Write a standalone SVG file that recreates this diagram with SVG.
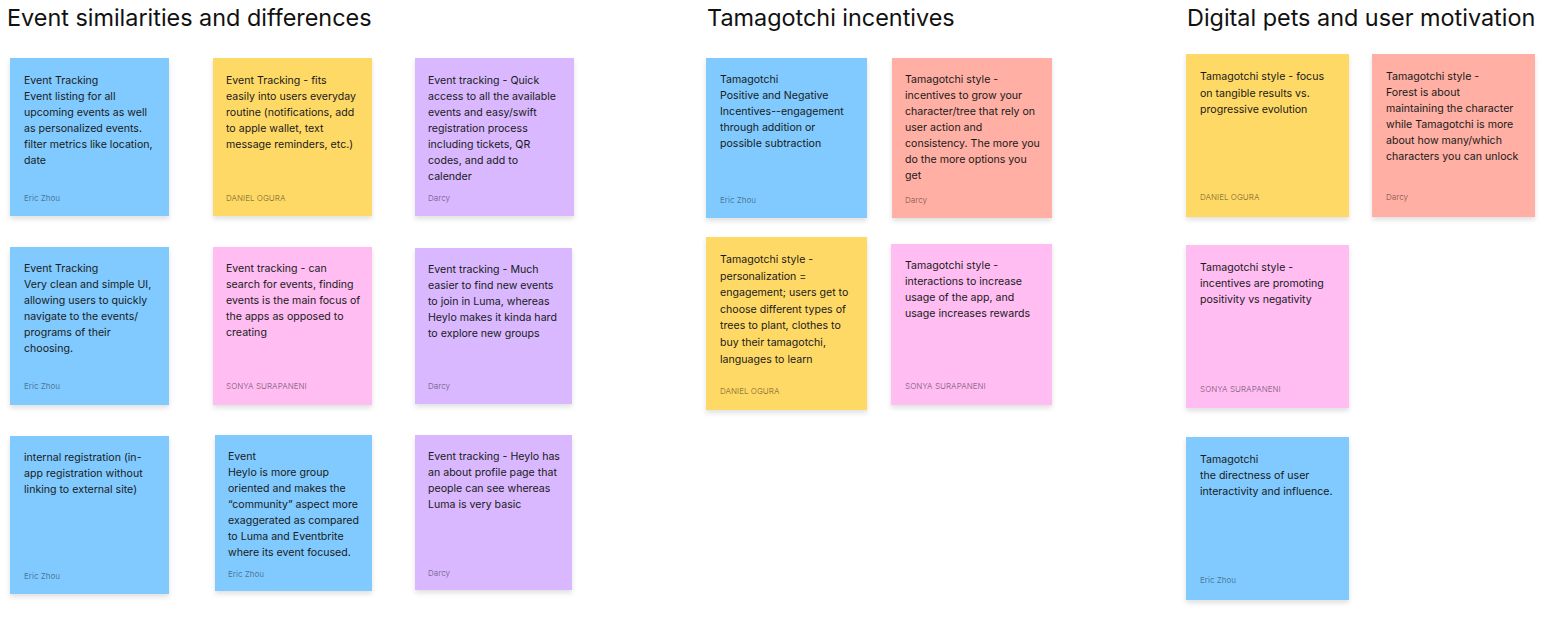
<svg xmlns="http://www.w3.org/2000/svg" width="1545" height="618" viewBox="0 0 1545 618">
<style>
  text { font-family: Inter, "Noto Sans", "Liberation Sans", sans-serif; }
  .title { font-size: 23.4px; fill: #111; }
  .body { font-size: 10.6px; fill: #1a1a1a; }
  .auth { font-size: 8px; fill: #000; fill-opacity: 0.45; }
  .blue { fill: #80CAFF; }
  .yellow { fill: #FFD966; }
  .violet { fill: #D9B8FF; }
  .pink { fill: #FFBDF2; }
  .red { fill: #FFAFA3; }
  .note { filter: url(#sh); }
</style>
<defs>
  <filter id="sh" x="-10%" y="-10%" width="120%" height="125%">
    <feDropShadow dx="0" dy="3" stdDeviation="2.5" flood-color="#000" flood-opacity="0.12"/>
  </filter>
</defs>
<rect width="1545" height="618" fill="#fff"/>

<g id="titles">
  <text class="title" x="7" y="26">Event similarities and differences</text>
  <text class="title" x="707" y="26">Tamagotchi incentives</text>
  <text class="title" x="1187" y="26">Digital pets and user motivation</text>
</g>

<g id="note-a">
  <rect class="note blue" x="10" y="58" width="159" height="158"/>
  <text class="body" x="24" y="84"><tspan x="24">Event Tracking</tspan><tspan x="24" dy="16">Event listing for all</tspan><tspan x="24" dy="16">upcoming events as well</tspan><tspan x="24" dy="16">as personalized events.</tspan><tspan x="24" dy="16">filter metrics like location,</tspan><tspan x="24" dy="16">date</tspan></text>
  <text class="auth" x="24" y="201">Eric Zhou</text>
</g>
<g id="note-b">
  <rect class="note yellow" x="213" y="58" width="159" height="158"/>
  <text class="body" x="226" y="84"><tspan x="226">Event Tracking - fits</tspan><tspan x="226" dy="16">easily into users everyday</tspan><tspan x="226" dy="16">routine (notifications, add</tspan><tspan x="226" dy="16">to apple wallet, text</tspan><tspan x="226" dy="16">message reminders, etc.)</tspan></text>
  <text class="auth" x="226" y="201">DANIEL OGURA</text>
</g>
<g id="note-c">
  <rect class="note violet" x="415" y="58" width="159" height="158"/>
  <text class="body" x="428" y="84"><tspan x="428">Event tracking - Quick</tspan><tspan x="428" dy="16">access to all the available</tspan><tspan x="428" dy="16">events and easy/swift</tspan><tspan x="428" dy="16">registration process</tspan><tspan x="428" dy="16">including tickets, QR</tspan><tspan x="428" dy="16">codes, and add to</tspan><tspan x="428" dy="16">calender</tspan></text>
  <text class="auth" x="428" y="201">Darcy</text>
</g>

<g id="note-d">
  <rect class="note blue" x="10" y="247" width="159" height="158"/>
  <text class="body" x="24" y="272"><tspan x="24">Event Tracking</tspan><tspan x="24" dy="16">Very clean and simple UI,</tspan><tspan x="24" dy="16">allowing users to quickly</tspan><tspan x="24" dy="16">navigate to the events/</tspan><tspan x="24" dy="16">programs of their</tspan><tspan x="24" dy="16">choosing.</tspan></text>
  <text class="auth" x="24" y="389">Eric Zhou</text>
</g>
<g id="note-e">
  <rect class="note pink" x="213" y="247" width="159" height="158"/>
  <text class="body" x="226" y="272"><tspan x="226">Event tracking - can</tspan><tspan x="226" dy="16">search for events, finding</tspan><tspan x="226" dy="16">events is the main focus of</tspan><tspan x="226" dy="16">the apps as opposed to</tspan><tspan x="226" dy="16">creating</tspan></text>
  <text class="auth" x="226" y="389">SONYA SURAPANENI</text>
</g>
<g id="note-f">
  <rect class="note violet" x="415" y="248" width="157" height="156"/>
  <text class="body" x="428" y="273"><tspan x="428">Event tracking - Much</tspan><tspan x="428" dy="16">easier to find new events</tspan><tspan x="428" dy="16">to join in Luma, whereas</tspan><tspan x="428" dy="16">Heylo makes it kinda hard</tspan><tspan x="428" dy="16">to explore new groups</tspan></text>
  <text class="auth" x="428" y="389">Darcy</text>
</g>

<g id="note-g">
  <rect class="note blue" x="10" y="436" width="159" height="158"/>
  <text class="body" x="24" y="461"><tspan x="24">internal registration (in-</tspan><tspan x="24" dy="16">app registration without</tspan><tspan x="24" dy="16">linking to external site)</tspan></text>
  <text class="auth" x="24" y="579">Eric Zhou</text>
</g>
<g id="note-h">
  <rect class="note blue" x="215" y="435" width="157" height="156"/>
  <text class="body" x="228" y="460"><tspan x="228">Event</tspan><tspan x="228" dy="16">Heylo is more group</tspan><tspan x="228" dy="16">oriented and makes the</tspan><tspan x="228" dy="16">“community” aspect more</tspan><tspan x="228" dy="16">exaggerated as compared</tspan><tspan x="228" dy="16">to Luma and Eventbrite</tspan><tspan x="228" dy="16">where its event focused.</tspan></text>
  <text class="auth" x="228" y="577">Eric Zhou</text>
</g>
<g id="note-i">
  <rect class="note violet" x="415" y="435" width="157" height="155"/>
  <text class="body" x="428" y="460"><tspan x="428">Event tracking - Heylo has</tspan><tspan x="428" dy="16">an about profile page that</tspan><tspan x="428" dy="16">people can see whereas</tspan><tspan x="428" dy="16">Luma is very basic</tspan></text>
  <text class="auth" x="428" y="576">Darcy</text>
</g>

<g id="note-j">
  <rect class="note blue" x="706" y="58" width="161" height="160"/>
  <text class="body" x="720" y="83"><tspan x="720">Tamagotchi</tspan><tspan x="720" dy="16">Positive and Negative</tspan><tspan x="720" dy="16">Incentives--engagement</tspan><tspan x="720" dy="16">through addition or</tspan><tspan x="720" dy="16">possible subtraction</tspan></text>
  <text class="auth" x="720" y="203">Eric Zhou</text>
</g>
<g id="note-k">
  <rect class="note red" x="892" y="58" width="160" height="160"/>
  <text class="body" x="905" y="83"><tspan x="905">Tamagotchi style -</tspan><tspan x="905" dy="16">incentives to grow your</tspan><tspan x="905" dy="16">character/tree that rely on</tspan><tspan x="905" dy="16">user action and</tspan><tspan x="905" dy="16">consistency. The more you</tspan><tspan x="905" dy="16">do the more options you</tspan><tspan x="905" dy="16">get</tspan></text>
  <text class="auth" x="905" y="203">Darcy</text>
</g>
<g id="note-l">
  <rect class="note yellow" x="706" y="237" width="161" height="173"/>
  <text class="body" x="720" y="263"><tspan x="720">Tamagotchi style -</tspan><tspan x="720" dy="16.6">personalization =</tspan><tspan x="720" dy="16.6">engagement; users get to</tspan><tspan x="720" dy="16.6">choose different types of</tspan><tspan x="720" dy="16.6">trees to plant, clothes to</tspan><tspan x="720" dy="16.6">buy their tamagotchi,</tspan><tspan x="720" dy="16.6">languages to learn</tspan></text>
  <text class="auth" x="720" y="394">DANIEL OGURA</text>
</g>
<g id="note-m">
  <rect class="note pink" x="891" y="244" width="161" height="161"/>
  <text class="body" x="905" y="269"><tspan x="905">Tamagotchi style -</tspan><tspan x="905" dy="16">interactions to increase</tspan><tspan x="905" dy="16">usage of the app, and</tspan><tspan x="905" dy="16">usage increases rewards</tspan></text>
  <text class="auth" x="905" y="389">SONYA SURAPANENI</text>
</g>

<g id="note-n">
  <rect class="note yellow" x="1186" y="54" width="163" height="163"/>
  <text class="body" x="1200" y="80"><tspan x="1200">Tamagotchi style - focus</tspan><tspan x="1200" dy="16.6">on tangible results vs.</tspan><tspan x="1200" dy="16.6">progressive evolution</tspan></text>
  <text class="auth" x="1200" y="200">DANIEL OGURA</text>
</g>
<g id="note-o">
  <rect class="note red" x="1372" y="54" width="163" height="163"/>
  <text class="body" x="1386" y="80"><tspan x="1386">Tamagotchi style -</tspan><tspan x="1386" dy="16">Forest is about</tspan><tspan x="1386" dy="16">maintaining the character</tspan><tspan x="1386" dy="16">while Tamagotchi is more</tspan><tspan x="1386" dy="16">about how many/which</tspan><tspan x="1386" dy="16">characters you can unlock</tspan></text>
  <text class="auth" x="1386" y="200">Darcy</text>
</g>
<g id="note-p">
  <rect class="note pink" x="1186" y="245" width="163" height="163"/>
  <text class="body" x="1200" y="271"><tspan x="1200">Tamagotchi style -</tspan><tspan x="1200" dy="16">incentives are promoting</tspan><tspan x="1200" dy="16">positivity vs negativity</tspan></text>
  <text class="auth" x="1200" y="392">SONYA SURAPANENI</text>
</g>
<g id="note-q">
  <rect class="note blue" x="1186" y="437" width="163" height="163"/>
  <text class="body" x="1200" y="463"><tspan x="1200">Tamagotchi</tspan><tspan x="1200" dy="16">the directness of user</tspan><tspan x="1200" dy="16">interactivity and influence.</tspan></text>
  <text class="auth" x="1200" y="583">Eric Zhou</text>
</g>
</svg>
